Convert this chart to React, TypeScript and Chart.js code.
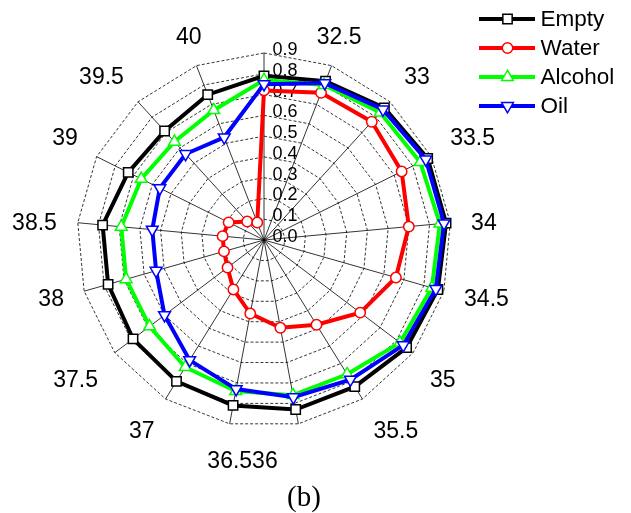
import React, { useEffect, useRef } from "react";
import { Chart, registerables } from "chart.js";

Chart.register(...registerables);

// 17 equally spaced directions, clockwise from the top
const categories = ["32", "32.5", "33", "33.5", "34", "34.5", "35", "35.5", "36", "36.5", "37", "37.5", "38", "38.5", "39", "39.5", "40"];
// text printed around the plot (the top one is blank, 36/36.5 print as one string)
const angleLabels = ["", "32.5", "33", "33.5", "34", "34.5", "35", "35.5", "", "36.536", "37", "37.5", "38", "38.5", "39", "39.5", "40"];
const angleLabelShift = [0, 0, 0, 0, 0, 0, 0, 0, 0, -0.22, 0, 0, 0, 0, 0, 0, 0];
const radialTickValues = [0, 0.1, 0.2, 0.3, 0.4, 0.5, 0.6, 0.7, 0.8, 0.9];

const seriesNames = ["Empty", "Water", "Alcohol", "Oil"];
const empty = [0.79, 0.82, 0.86, 0.88, 0.88, 0.87, 0.86, 0.83, 0.83, 0.81, 0.80, 0.79, 0.78, 0.78, 0.73, 0.71, 0.75];
const water = [0.72, 0.76, 0.77, 0.74, 0.70, 0.66, 0.58, 0.48, 0.43, 0.36, 0.28, 0.22, 0.20, 0.20, 0.19, 0.12, 0.09];
const alcohol = [0.77, 0.80, 0.83, 0.84, 0.85, 0.84, 0.82, 0.76, 0.76, 0.74, 0.72, 0.69, 0.69, 0.69, 0.66, 0.64, 0.67];
const oil = [0.75, 0.81, 0.85, 0.87, 0.87, 0.86, 0.84, 0.79, 0.77, 0.73, 0.68, 0.60, 0.54, 0.54, 0.56, 0.56, 0.53];

const seriesColors = ["#000000", "#ff0000", "#00ff00", "#0000ff"];
const seriesMarkers = ["rect", "circle", "triangle", "triangle"];
const seriesRotation = [0, 0, 0, 180];
const seriesRadius = [6.6, 5.2, 6.8, 6.8];

const SANS = '"Liberation Sans", Arial, sans-serif';
const SERIF = '"Liberation Serif", "Times New Roman", serif';

function drawMarker(ctx: CanvasRenderingContext2D, style: string, x: number, y: number, r: number, rot: number, color: string) {
  ctx.save();
  ctx.beginPath();
  if (style === "rect") {
    const s = Math.SQRT1_2 * r;
    ctx.rect(x - s, y - s, 2 * s, 2 * s);
  } else if (style === "circle") {
    ctx.arc(x, y, r, 0, Math.PI * 2);
  } else {
    let a = (rot * Math.PI) / 180;
    ctx.moveTo(x + Math.sin(a) * r, y - Math.cos(a) * r);
    a += (2 * Math.PI) / 3;
    ctx.lineTo(x + Math.sin(a) * r, y - Math.cos(a) * r);
    a += (2 * Math.PI) / 3;
    ctx.lineTo(x + Math.sin(a) * r, y - Math.cos(a) * r);
    ctx.closePath();
  }
  ctx.fillStyle = "#ffffff";
  ctx.fill();
  ctx.lineWidth = 1.5;
  ctx.strokeStyle = color;
  ctx.stroke();
  ctx.restore();
}

const decorPlugin = {
  id: "decor",
  beforeDatasetsDraw(chart: any) {
    const s = chart.scales.r;
    const ctx: CanvasRenderingContext2D = chart.ctx;
    ctx.save();
    ctx.font = `18px ${SANS}`;
    ctx.fillStyle = "#000";
    ctx.textAlign = "left";
    ctx.textBaseline = "alphabetic";
    radialTickValues.forEach((v) => {
      const d = s.getDistanceFromCenterForValue(v);
      ctx.fillText(v.toFixed(1), s.xCenter + 8.5, s.yCenter - d + 2);
    });
    ctx.restore();
  },
  afterDraw(chart: any) {
    const s = chart.scales.r;
    const ctx: CanvasRenderingContext2D = chart.ctx;
    ctx.save();
    // angular labels
    ctx.font = `23px ${SANS}`;
    ctx.fillStyle = "#000";
    ctx.textBaseline = "alphabetic";
    const R0 = s.drawingArea + 21;
    angleLabels.forEach((txt, i) => {
      if (!txt) return;
      const p = s.getPointPosition(i + angleLabelShift[i], R0);
      const a = p.angle + Math.PI / 2; // clockwise from top
      const sn = Math.sin(a);
      const cs = Math.cos(a);
      if (Math.abs(sn) < 0.45) ctx.textAlign = "center";
      else ctx.textAlign = sn > 0 ? "left" : "right";
      let cy;
      if (cs > 0.3) cy = p.y - 10.5;
      else if (cs < -0.3) cy = p.y + 13;
      else cy = p.y + 1;
      ctx.fillText(txt, p.x, cy + 8.2);
    });
    // legend
    ctx.textAlign = "left";
    ctx.textBaseline = "middle";
    ctx.font = `22.5px ${SANS}`;
    chart.data.datasets.forEach((ds: any, i: number) => {
      const y = 19 + 29 * i;
      ctx.beginPath();
      ctx.moveTo(479, y);
      ctx.lineTo(535, y);
      ctx.lineWidth = 4;
      ctx.strokeStyle = seriesColors[i];
      ctx.stroke();
      drawMarker(ctx, seriesMarkers[i], 507.5, y, seriesRadius[i], seriesRotation[i], seriesColors[i]);
      ctx.fillStyle = "#000";
      ctx.fillText(ds.label, 540.5, y + 1);
    });
    // caption
    ctx.font = `29px ${SERIF}`;
    ctx.textAlign = "center";
    ctx.textBaseline = "alphabetic";
    ctx.fillText("(b)", 304, 506);
    ctx.restore();
  },
};

export default function App() {
  const ref = useRef<HTMLCanvasElement>(null);
  useEffect(() => {
    const canvas = ref.current!;
    const seriesData = [empty, water, alcohol, oil];
    const chart = new Chart(canvas, {
      type: "radar",
      data: {
        labels: categories,
        datasets: seriesData.map((d, i) => ({
          label: seriesNames[i],
          data: d,
          borderColor: seriesColors[i],
          backgroundColor: seriesColors[i],
          borderWidth: 4,
          fill: false,
          tension: 0,
          pointStyle: seriesMarkers[i] as any,
          pointRotation: seriesRotation[i],
          pointRadius: seriesRadius[i],
          pointBorderWidth: 1.5,
          pointBorderColor: seriesColors[i],
          pointBackgroundColor: "#ffffff",
          order: 3 - i,
        })),
      },
      options: {
        responsive: false,
        animation: false,
        events: [],
        layout: { padding: { left: 77, right: 180, top: 53, bottom: 86 } },
        plugins: { legend: { display: false }, tooltip: { enabled: false }, title: { display: false } },
        scales: {
          r: {
            min: 0,
            max: 0.9,
            startAngle: 0,
            ticks: { display: false, stepSize: 0.1 },
            pointLabels: { display: false },
            grid: { color: "#000", lineWidth: 0.8 },
            border: { dash: [3, 2] },
            angleLines: { color: "#000", lineWidth: 0.8 },
          },
        },
      },
      plugins: [decorPlugin],
    });
    return () => chart.destroy();
  }, []);
  return (
    <div style={{ position: "fixed", left: 0, top: 0, width: 631, height: 513, background: "#fff" }}>
      <canvas ref={ref} width={631} height={513} style={{ display: "block" }} />
    </div>
  );
}
